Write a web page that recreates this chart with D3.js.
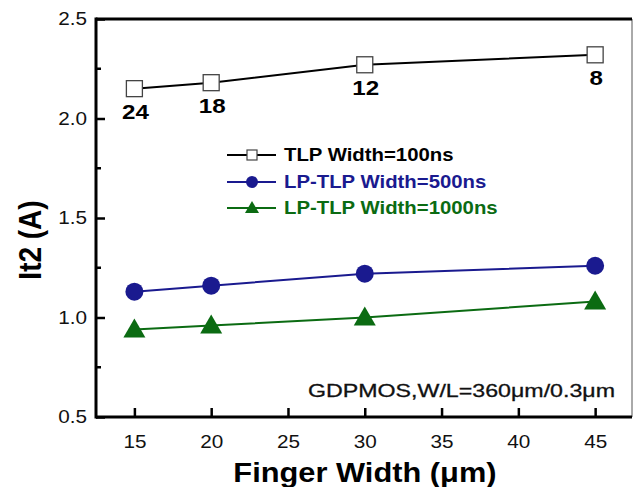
<!DOCTYPE html>
<html><head><meta charset="utf-8">
<script src="https://cdn.jsdelivr.net/npm/d3@7"></script>
<style>body{margin:0;background:#fff}svg{display:block}</style>
</head><body><svg id="c" width="633" height="487"></svg>
<script>
const fingerWidth = [15, 20, 30, 45];
const tlp100 = [2.15, 2.18, 2.27, 2.32];
const lptlp500 = [1.13, 1.16, 1.22, 1.26];
const lptlp1000 = [0.94, 0.96, 1.00, 1.08];
const fingerCount = ["24", "18", "12", "8"];
const xTicks = [15, 20, 25, 30, 35, 40, 45];
const yTicks = [0.5, 1.0, 1.5, 2.0, 2.5];
const yMinor = [0.75, 1.25, 1.75, 2.25];
const seriesNames = ["TLP Width=100ns", "LP-TLP Width=500ns", "LP-TLP Width=1000ns"];

const svg = d3.select("#c");
const L = 96, R = 632, T = 19, B = 417;
const x = d3.scaleLinear().domain([12.5, 47.4]).range([L, R]);
const y = d3.scaleLinear().domain([0.5, 2.5]).range([B, T]);
const font = "Arial, 'Liberation Sans', sans-serif";
const SX = 1.15;

function stretch(sel, f) {
  sel.each(function () {
    const w = this.getComputedTextLength();
    d3.select(this).attr("textLength", w * f).attr("lengthAdjust", "spacingAndGlyphs");
  });
}

// frame
svg.append("line").attr("x1", R).attr("x2", R).attr("y1", T).attr("y2", B).attr("stroke", "#555").attr("stroke-width", 1);
svg.append("line").attr("x1", L).attr("x2", L).attr("y1", T - 1.5).attr("y2", B + 1.5).attr("stroke", "#000").attr("stroke-width", 3);
svg.append("line").attr("x1", L).attr("x2", R).attr("y1", B).attr("y2", B).attr("stroke", "#000").attr("stroke-width", 3);
svg.append("line").attr("x1", L).attr("x2", R).attr("y1", T).attr("y2", T).attr("stroke", "#000").attr("stroke-width", 3);

// x axis
const xa = svg.append("g").attr("transform", `translate(0,${B})`)
  .call(d3.axisBottom(x).tickValues(xTicks).tickSize(-9).tickPadding(18).tickFormat(d3.format("d")));
xa.select(".domain").remove();
xa.selectAll("line").attr("stroke-width", 2.5);
xa.selectAll("text").attr("font-family", font).attr("font-size", 18).attr("fill", "#111");
stretch(xa.selectAll("text"), SX);

// y axis
const ya = svg.append("g").attr("transform", `translate(${L},0)`)
  .call(d3.axisLeft(y).tickValues(yTicks).tickSize(-9).tickPadding(9).tickFormat(d3.format(".1f")));
ya.select(".domain").remove();
ya.selectAll("line").attr("stroke-width", 2.5);
ya.selectAll("text").attr("font-family", font).attr("font-size", 18).attr("fill", "#111");
stretch(ya.selectAll("text"), SX);
svg.append("g").selectAll("line").data(yMinor).join("line")
  .attr("x1", L).attr("x2", L + 5).attr("y1", d => y(d)).attr("y2", d => y(d))
  .attr("stroke", "#000").attr("stroke-width", 2.5);

// titles
const xt = svg.append("text").attr("x", 365).attr("y", 482).attr("text-anchor", "middle")
  .attr("font-family", font).attr("font-weight", "bold").attr("font-size", 28).text("Finger Width (μm)");
stretch(xt, 1.1);
svg.append("text").attr("transform", "translate(41,240) rotate(-90) scale(1,1.15)").attr("text-anchor", "middle")
  .attr("font-family", font).attr("font-weight", "bold").attr("font-size", 28).text("It2 (A)");

const line = d3.line().x((d, i) => x(fingerWidth[i])).y(d => y(d));
const colors = ["#000000", "#1a1a8f", "#0b6b12"];

function drawMarker(g, type, cx, cy, c) {
  if (type === 0) g.append("rect").attr("x", cx - 8).attr("y", cy - 8).attr("width", 16).attr("height", 16)
    .attr("fill", "#fff").attr("stroke", "#444").attr("stroke-width", 1.3);
  else if (type === 1) g.append("circle").attr("cx", cx).attr("cy", cy).attr("r", 9).attr("fill", c);
  else g.append("path").attr("d", `M${cx},${cy - 11}L${cx + 11},${cy + 8}L${cx - 11},${cy + 8}Z`).attr("fill", c);
}
function drawMarkerSmall(g, type, cx, cy, c) {
  if (type === 0) g.append("rect").attr("x", cx - 5).attr("y", cy - 5).attr("width", 10).attr("height", 10)
    .attr("fill", "#fff").attr("stroke", "#444").attr("stroke-width", 1.2);
  else if (type === 1) g.append("circle").attr("cx", cx).attr("cy", cy).attr("r", 6).attr("fill", c);
  else g.append("path").attr("d", `M${cx},${cy - 7}L${cx + 7},${cy + 5}L${cx - 7},${cy + 5}Z`).attr("fill", c);
}

[tlp100, lptlp500, lptlp1000].forEach((s, k) => {
  svg.append("path").attr("d", line(s)).attr("fill", "none").attr("stroke", colors[k]).attr("stroke-width", 2);
  const g = svg.append("g");
  s.forEach((v, i) => drawMarker(g, k, x(fingerWidth[i]), y(v), colors[k]));
});

// finger count labels
const fl = svg.append("g").selectAll("text").data(tlp100).join("text")
  .attr("x", (d, i) => x(fingerWidth[i]) + 1).attr("y", d => y(d) + 30).attr("text-anchor", "middle")
  .attr("font-family", font).attr("font-weight", "bold").attr("font-size", 21).text((d, i) => fingerCount[i]);
stretch(fl, SX);

// legend
const ly = [155, 182, 208];
seriesNames.forEach((n, k) => {
  const g = svg.append("g");
  g.append("line").attr("x1", 227).attr("x2", 276).attr("y1", ly[k]).attr("y2", ly[k]).attr("stroke", colors[k]).attr("stroke-width", 2);
  drawMarkerSmall(g, k, 252, ly[k], colors[k]);
  const t = g.append("text").attr("x", 284).attr("y", ly[k] + 6).attr("font-family", font).attr("font-weight", "bold")
    .attr("font-size", 18).attr("fill", colors[k]).text(n);
  stretch(t, 1.13);
});

const ann = svg.append("text").attr("x", 308).attr("y", 397).attr("font-family", font).attr("font-size", 18)
  .attr("fill", "#111").attr("stroke", "#111").attr("stroke-width", 0.3).text("GDPMOS,W/L=360μm/0.3μm");
ann.attr("textLength", 307).attr("lengthAdjust", "spacingAndGlyphs");
</script></body></html>
